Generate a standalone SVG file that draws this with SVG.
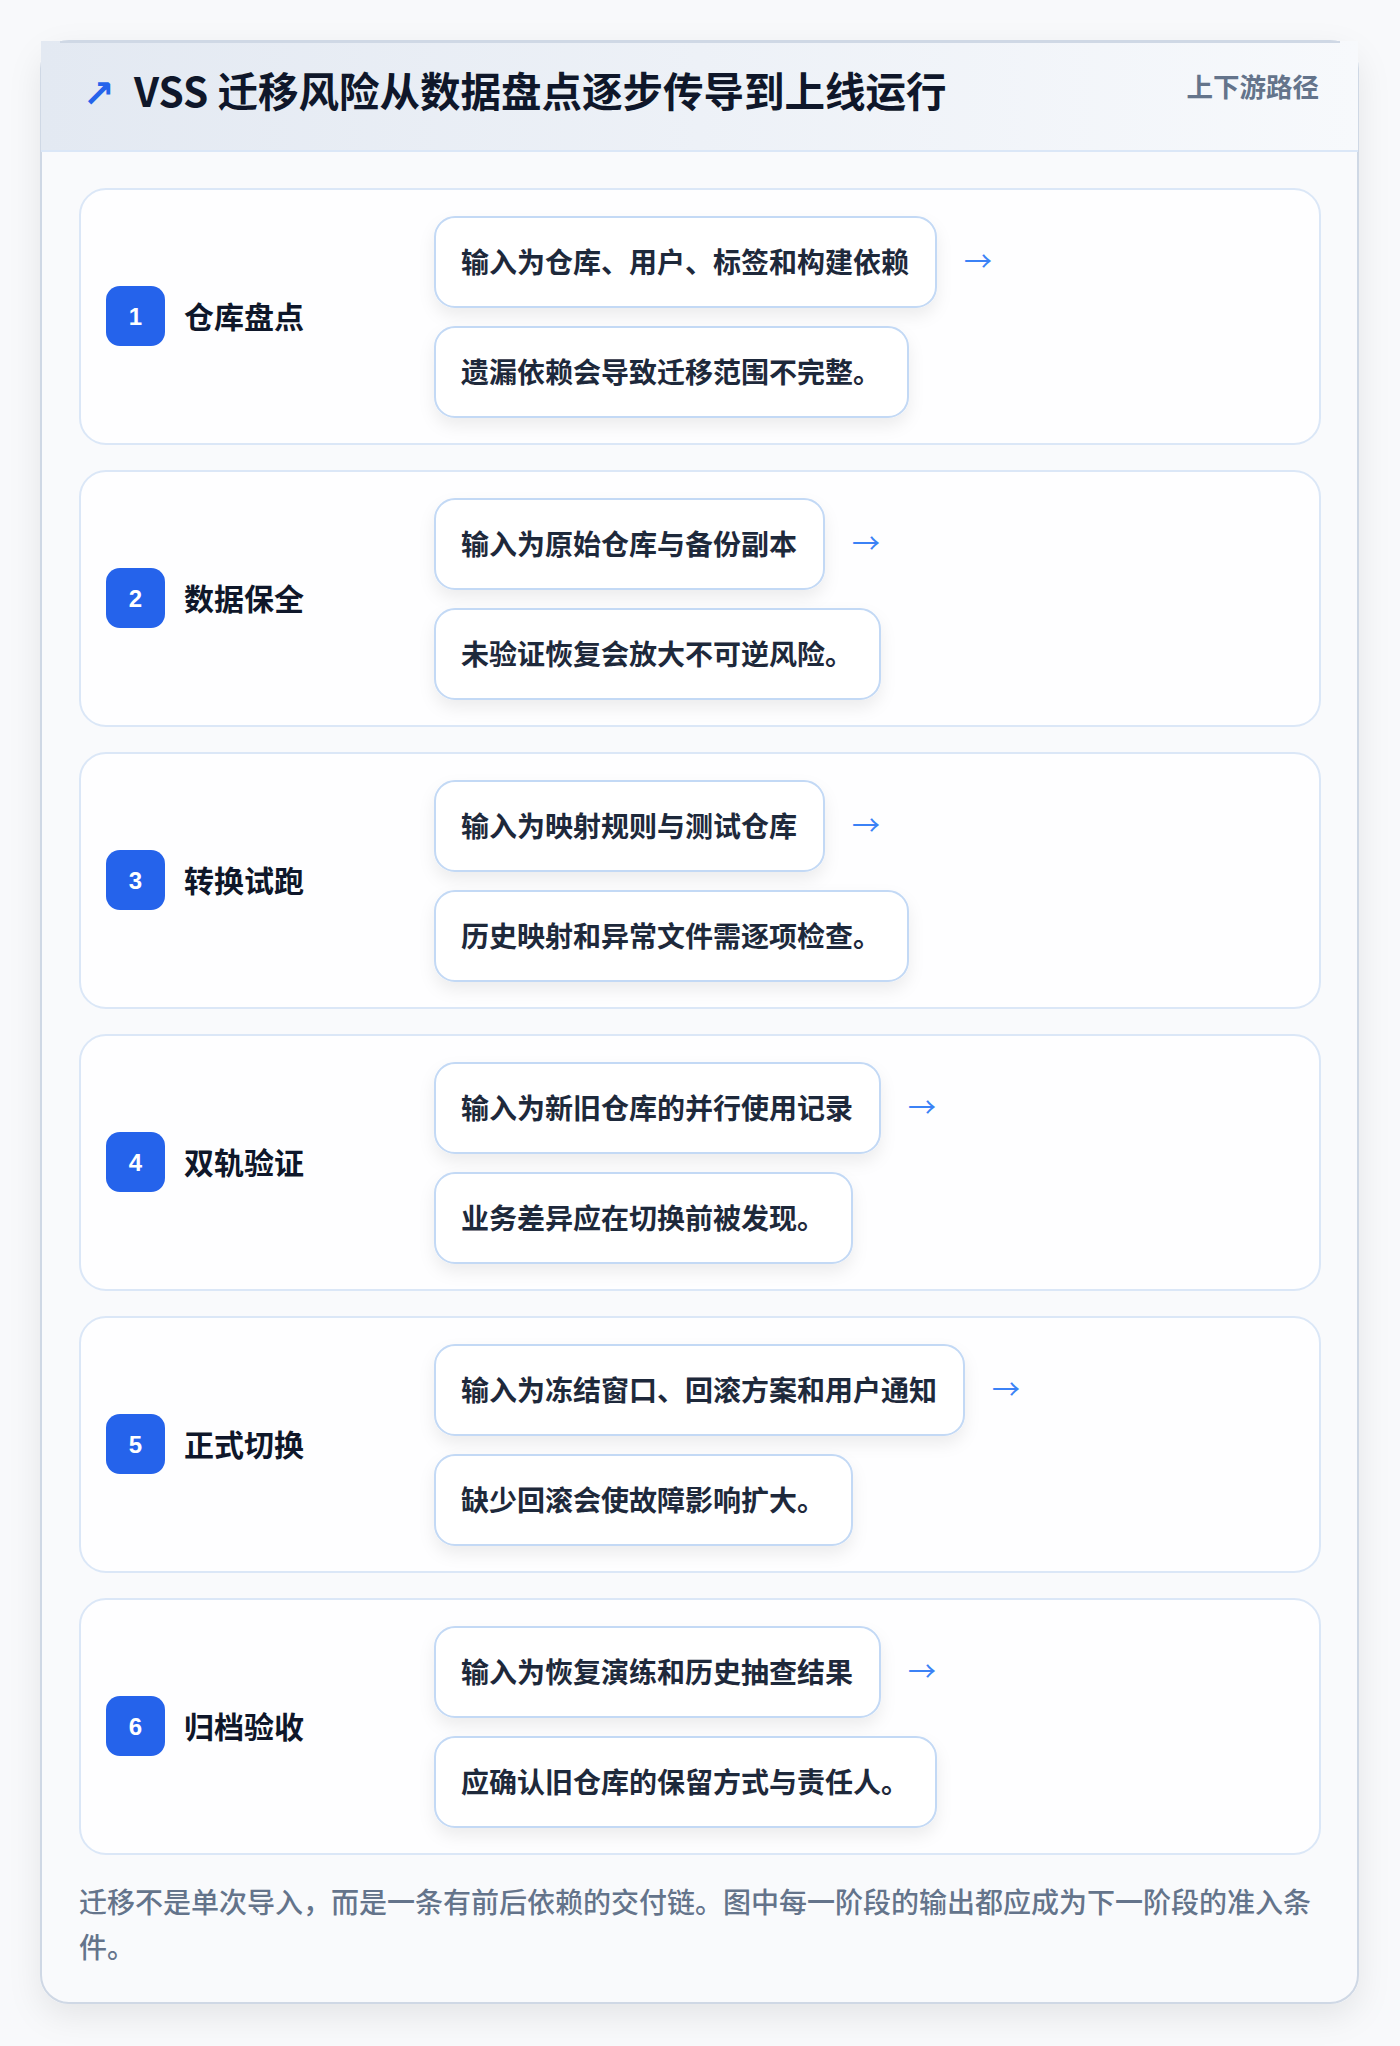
<svg xmlns="http://www.w3.org/2000/svg" width="1400" height="2046" viewBox="0 0 1400 2046">
  <defs>
    <linearGradient id="hdr" x1="0" y1="0" x2="1" y2="0">
      <stop offset="0" stop-color="#e3e9f2"/>
      <stop offset="1" stop-color="#f7f9fc"/>
    </linearGradient>
    <filter id="cardShadow" x="-10%" y="-10%" width="120%" height="120%">
      <feDropShadow dx="0" dy="12" stdDeviation="16" flood-color="#0f172a" flood-opacity="0.08"/>
    </filter>
    <filter id="boxShadow" x="-10%" y="-20%" width="120%" height="160%">
      <feDropShadow dx="0" dy="8" stdDeviation="8" flood-color="#0f172a" flood-opacity="0.07"/>
    </filter>
    <style>
      .cjk { font-family: "Noto Sans CJK SC", "Liberation Sans", sans-serif; }
      .stage { fill: #fefeff; stroke: #dbe7f7; stroke-width: 2; }
      .badge { fill: #2563eb; }
      .num { font-family: "Liberation Sans", "Noto Sans CJK SC", sans-serif; font-size: 24px; font-weight: 700; fill: #ffffff; text-anchor: middle; }
      .label { font-size: 30px; font-weight: 700; fill: #0f172a; }
      .box { fill: #ffffff; stroke: #c3d9f5; stroke-width: 2; filter: url(#boxShadow); }
      .btxt { font-size: 28px; font-weight: 600; fill: #1e293b; }
      .arrow { font-size: 28px; fill: #3b82f6; }
    </style>
  </defs>

  <rect x="0" y="0" width="1400" height="2046" fill="#f8f9fb"/>

  <g id="frame">
    <rect x="41" y="41" width="1317" height="1962" rx="28" fill="#f9fafc" stroke="#cfd8e5" stroke-width="2" filter="url(#cardShadow)"/>
    <rect x="41" y="41" width="1317" height="110" fill="url(#hdr)"/>
    <line x1="60" y1="42" x2="1340" y2="42" stroke="#cfd8e5" stroke-width="2"/>
    <line x1="41" y1="151" x2="1358" y2="151" stroke="#dbe7f7" stroke-width="2"/>
    <text x="99" y="107" font-family="DejaVu Sans, sans-serif" font-size="38" font-weight="700" fill="#2563eb" text-anchor="middle">↗</text>
    <text class="cjk" x="134" y="107" font-size="40.5" font-weight="700" fill="#0f172a">VSS 迁移风险从数据盘点逐步传导到上线运行</text>
    <text class="cjk" x="1319" y="97" font-size="26.5" font-weight="600" fill="#64748b" text-anchor="end">上下游路径</text>
  </g>

  <g id="stage1" transform="translate(0,189)">
    <rect class="stage" x="80" y="0" width="1240" height="255" rx="26"/>
    <rect class="badge" x="106" y="97" width="59" height="60" rx="14"/>
    <text class="num" x="135.5" y="136">1</text>
    <text class="cjk label" x="184" y="138.5">仓库盘点</text>
    <rect class="box" x="435" y="28" width="501" height="90" rx="20"/>
    <text class="cjk btxt" x="461" y="84">输入为仓库、用户、标签和构建依赖</text>
    <rect class="box" x="435" y="138" width="473" height="90" rx="20"/>
    <text class="cjk btxt" x="461" y="194">遗漏依赖会导致迁移范围不完整。</text>
  </g>

  <g id="stage2" transform="translate(0,471)">
    <rect class="stage" x="80" y="0" width="1240" height="255" rx="26"/>
    <rect class="badge" x="106" y="97" width="59" height="60" rx="14"/>
    <text class="num" x="135.5" y="136">2</text>
    <text class="cjk label" x="184" y="138.5">数据保全</text>
    <rect class="box" x="435" y="28" width="389" height="90" rx="20"/>
    <text class="cjk btxt" x="461" y="84">输入为原始仓库与备份副本</text>
    <rect class="box" x="435" y="138" width="445" height="90" rx="20"/>
    <text class="cjk btxt" x="461" y="194">未验证恢复会放大不可逆风险。</text>
  </g>

  <g id="stage3" transform="translate(0,753)">
    <rect class="stage" x="80" y="0" width="1240" height="255" rx="26"/>
    <rect class="badge" x="106" y="97" width="59" height="60" rx="14"/>
    <text class="num" x="135.5" y="136">3</text>
    <text class="cjk label" x="184" y="138.5">转换试跑</text>
    <rect class="box" x="435" y="28" width="389" height="90" rx="20"/>
    <text class="cjk btxt" x="461" y="84">输入为映射规则与测试仓库</text>
    <rect class="box" x="435" y="138" width="473" height="90" rx="20"/>
    <text class="cjk btxt" x="461" y="194">历史映射和异常文件需逐项检查。</text>
  </g>

  <g id="stage4" transform="translate(0,1035)">
    <rect class="stage" x="80" y="0" width="1240" height="255" rx="26"/>
    <rect class="badge" x="106" y="97" width="59" height="60" rx="14"/>
    <text class="num" x="135.5" y="136">4</text>
    <text class="cjk label" x="184" y="138.5">双轨验证</text>
    <rect class="box" x="435" y="28" width="445" height="90" rx="20"/>
    <text class="cjk btxt" x="461" y="84">输入为新旧仓库的并行使用记录</text>
    <rect class="box" x="435" y="138" width="417" height="90" rx="20"/>
    <text class="cjk btxt" x="461" y="194">业务差异应在切换前被发现。</text>
  </g>

  <g id="stage5" transform="translate(0,1317)">
    <rect class="stage" x="80" y="0" width="1240" height="255" rx="26"/>
    <rect class="badge" x="106" y="97" width="59" height="60" rx="14"/>
    <text class="num" x="135.5" y="136">5</text>
    <text class="cjk label" x="184" y="138.5">正式切换</text>
    <rect class="box" x="435" y="28" width="529" height="90" rx="20"/>
    <text class="cjk btxt" x="461" y="84">输入为冻结窗口、回滚方案和用户通知</text>
    <rect class="box" x="435" y="138" width="417" height="90" rx="20"/>
    <text class="cjk btxt" x="461" y="194">缺少回滚会使故障影响扩大。</text>
  </g>

  <g id="stage6" transform="translate(0,1599)">
    <rect class="stage" x="80" y="0" width="1240" height="255" rx="26"/>
    <rect class="badge" x="106" y="97" width="59" height="60" rx="14"/>
    <text class="num" x="135.5" y="136">6</text>
    <text class="cjk label" x="184" y="138.5">归档验收</text>
    <rect class="box" x="435" y="28" width="445" height="90" rx="20"/>
    <text class="cjk btxt" x="461" y="84">输入为恢复演练和历史抽查结果</text>
    <rect class="box" x="435" y="138" width="501" height="90" rx="20"/>
    <text class="cjk btxt" x="461" y="194">应确认旧仓库的保留方式与责任人。</text>
  </g>

  <g id="connectors">
    <text class="cjk arrow" x="964" y="272">→</text>
    <text class="cjk arrow" x="852" y="554">→</text>
    <text class="cjk arrow" x="852" y="836">→</text>
    <text class="cjk arrow" x="908" y="1118">→</text>
    <text class="cjk arrow" x="992" y="1400">→</text>
    <text class="cjk arrow" x="908" y="1682">→</text>
  </g>

  <g id="footer">
    <text class="cjk" x="79" y="1912.5" font-size="28" font-weight="500" fill="#64748b">迁移不是单次导入，而是一条有前后依赖的交付链。图中每一阶段的输出都应成为下一阶段的准入条</text>
    <text class="cjk" x="79" y="1958" font-size="28" font-weight="500" fill="#64748b">件。</text>
  </g>
</svg>
